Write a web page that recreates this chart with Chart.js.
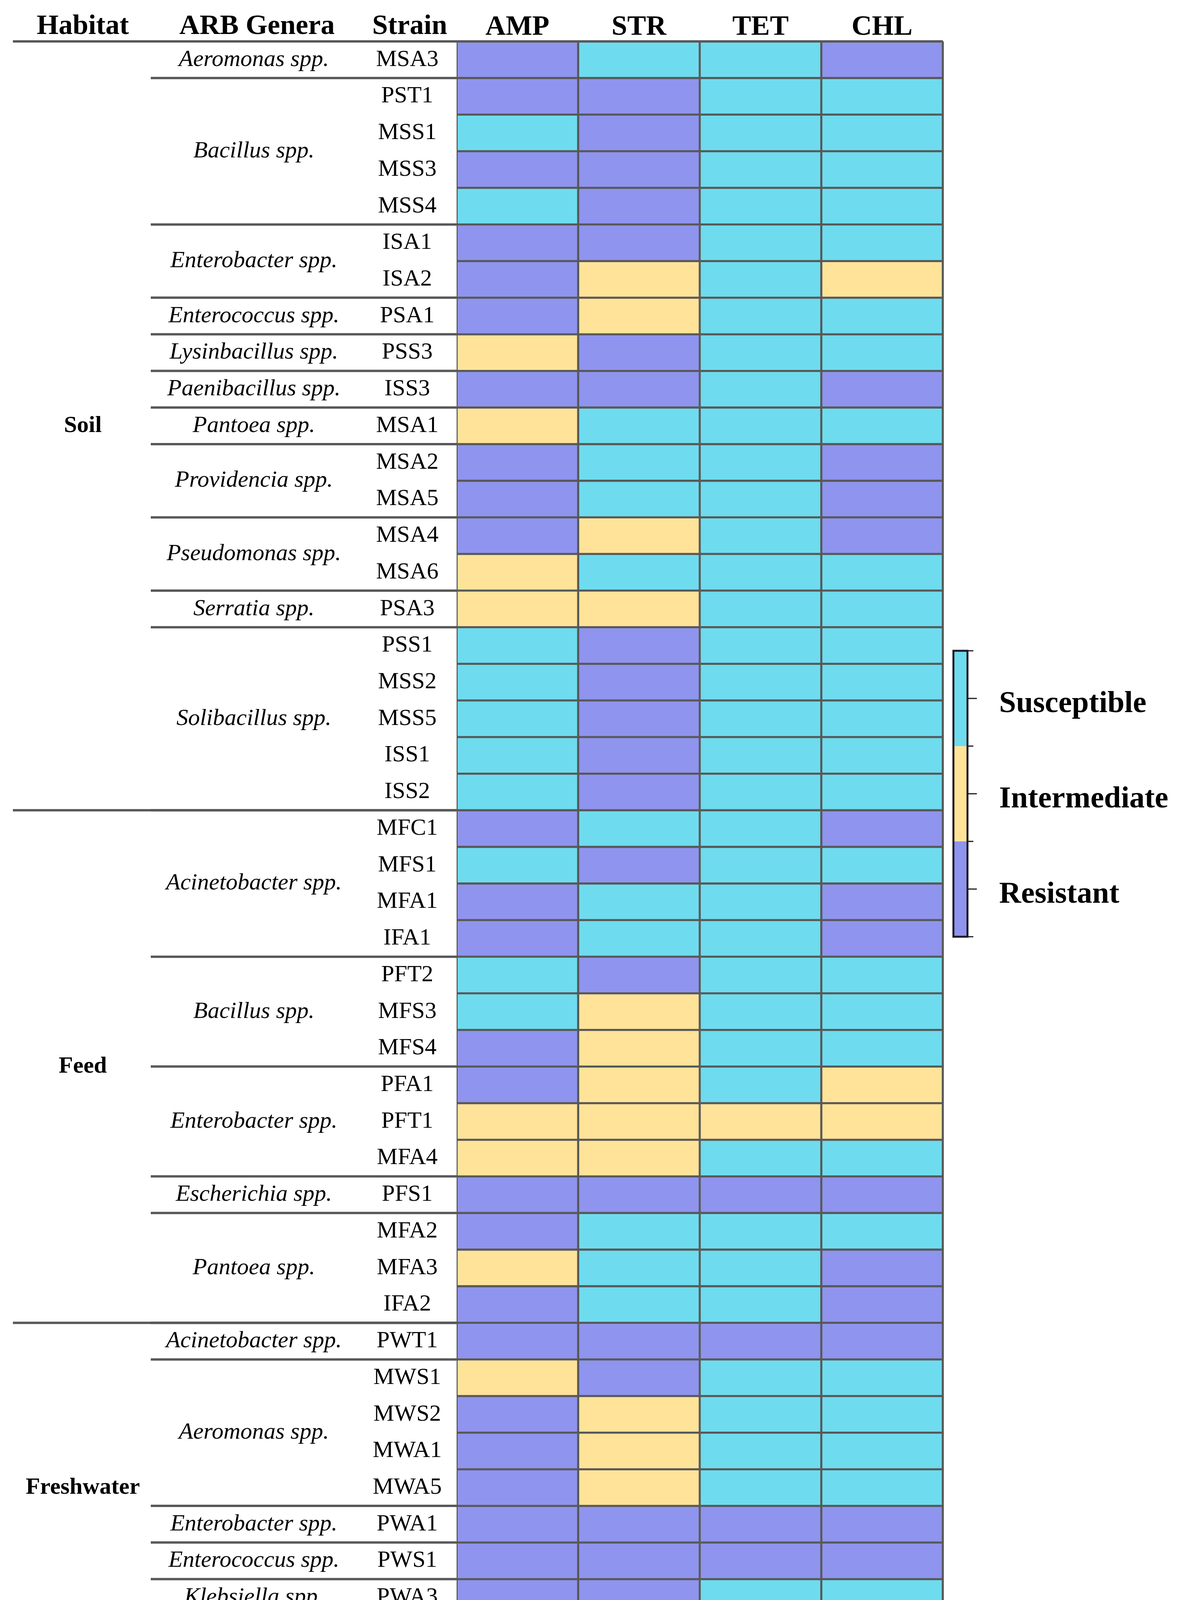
<!DOCTYPE html>
<html>
<head>
<meta charset="utf-8">
<script src="https://cdn.jsdelivr.net/npm/chart.js@4.4.1/dist/chart.umd.min.js"></script>
<style>
  html, body { margin: 0; padding: 0; background: #fff; }
  canvas { display: block; }
</style>
</head>
<body>
<canvas id="amr" width="3016" height="4304" style="width:3016px;height:4304px"></canvas>
<script>
// columns
const antibiotics = ['AMP', 'STR', 'TET', 'CHL'];

// rows, top to bottom
const strains = [
    'MSA3', 'PST1', 'MSS1', 'MSS3', 'MSS4', 'ISA1', 'ISA2', 'PSA1', 'PSS3', 'ISS3', 'MSA1',
    'MSA2', 'MSA5', 'MSA4', 'MSA6', 'PSA3', 'PSS1', 'MSS2', 'MSS5', 'ISS1', 'ISS2',
    'MFC1', 'MFS1', 'MFA1', 'IFA1', 'PFT2', 'MFS3', 'MFS4', 'PFA1', 'PFT1', 'MFA4', 'PFS1',
    'MFA2', 'MFA3', 'IFA2',
    'PWT1', 'MWS1', 'MWS2', 'MWA1', 'MWA5', 'PWA1', 'PWS1', 'PWA3', 'MWA3'
];

const habitats = ['Soil', 'Feed', 'Freshwater'];
const habitatSizes = [21, 14, 9];

const genera = [
    'Aeromonas spp.', 'Bacillus spp.', 'Enterobacter spp.', 'Enterococcus spp.', 'Lysinbacillus spp.',
    'Paenibacillus spp.', 'Pantoea spp.', 'Providencia spp.', 'Pseudomonas spp.', 'Serratia spp.',
    'Solibacillus spp.',
    'Acinetobacter spp.', 'Bacillus spp.', 'Enterobacter spp.', 'Escherichia spp.', 'Pantoea spp.',
    'Acinetobacter spp.', 'Aeromonas spp.', 'Enterobacter spp.', 'Enterococcus spp.', 'Klebsiella spp.',
    'Pseudomonas spp.'
];
const generaSizes = [1, 4, 2, 1, 1, 1, 1, 2, 2, 1, 5, 4, 3, 3, 1, 3, 1, 4, 1, 1, 1, 1];

// R = resistant, I = intermediate, S = susceptible
const ampRes = ['R','R','S','R','S','R','R','R','I','R','I','R','R','R','I','I','S','S','S','S','S',
                'R','S','R','R','S','S','R','R','I','I','R','R','I','R',
                'R','I','R','R','R','R','R','R','R'];
const strRes = ['S','R','R','R','R','R','I','I','R','R','S','S','S','I','S','I','R','R','R','R','R',
                'S','R','S','S','R','I','I','I','I','I','R','S','S','S',
                'R','R','I','I','I','R','R','R','R'];
const tetRes = ['S','S','S','S','S','S','S','S','S','S','S','S','S','S','S','S','S','S','S','S','S',
                'S','S','S','S','S','S','S','S','I','S','R','S','S','S',
                'R','S','S','S','S','R','R','S','S'];
const chlRes = ['R','S','S','S','S','S','I','S','S','R','S','R','R','R','S','S','S','S','S','S','S',
                'R','S','R','R','S','S','S','I','I','S','R','S','R','R',
                'R','S','S','S','S','R','R','S','R'];

const statusCodes = ['S', 'I', 'R'];
const statusLabels = ['Susceptible', 'Intermediate', 'Resistant'];
const statusColors = ['#6EDCEE', '#FFE399', '#8F94EE'];

const lineColor = '#585858';
const serif = '"Liberation Serif", "Times New Roman", serif';

function colorOf(code) {
    return statusColors[statusCodes.indexOf(code)];
}

const results = [ampRes, strRes, tetRes, chlRes];

// labels, separators and colour key
const tableDecor = {
    id: 'tableDecor',
    afterDraw(chart) {
        const ctx = chart.ctx;
        const area = chart.chartArea;
        const y = chart.scales.y;
        const band = y.getPixelForValue(1) - y.getPixelForValue(0);
        const rowTop = i => y.getPixelForValue(0) - band / 2 + i * band;

        ctx.save();
        ctx.fillStyle = '#000';
        ctx.textAlign = 'center';
        ctx.textBaseline = 'alphabetic';
        ctx.font = 'bold 72px ' + serif;
        ctx.fillText('Habitat', 212, 87);
        ctx.fillText('ARB Genera', 658, 87);
        ctx.fillText('Strain', 1049, 87);

        ctx.strokeStyle = lineColor;
        ctx.lineWidth = 6;
        function hline(x0, x1, yy) {
            ctx.beginPath();
            ctx.moveTo(x0, yy);
            ctx.lineTo(x1, yy);
            ctx.stroke();
        }

        // genera
        ctx.textBaseline = 'middle';
        ctx.font = 'italic 60px ' + serif;
        let start = 0;
        genera.forEach((g, k) => {
            const n = generaSizes[k];
            const yc = (rowTop(start) + rowTop(start + n)) / 2;
            ctx.fillText(g, 650, yc);
            if (start > 0) hline(386, area.left, rowTop(start));
            start += n;
        });

        // habitats
        ctx.font = 'bold 60px ' + serif;
        start = 0;
        habitats.forEach((h, k) => {
            const n = habitatSizes[k];
            const yc = (rowTop(start) + rowTop(start + n)) / 2;
            ctx.fillText(h, 212, yc);
            if (start > 0) hline(33, area.left, rowTop(start));
            start += n;
        });

        hline(33, area.right, area.top);
        hline(33, area.right, area.bottom);
        ctx.lineWidth = 5;
        ctx.beginPath();
        ctx.moveTo(area.right, area.top);
        ctx.lineTo(area.right, area.bottom);
        ctx.stroke();

        // colour key
        const kx = 2441, kw = 36, ktop = 1666, kbot = 2398;
        const seg = (kbot - ktop) / statusLabels.length;
        statusLabels.forEach((lab, k) => {
            ctx.fillStyle = statusColors[k];
            ctx.fillRect(kx, ktop + k * seg, kw, seg);
        });
        ctx.strokeStyle = '#1a1a22';
        ctx.lineWidth = 5;
        ctx.strokeRect(kx, ktop, kw, kbot - ktop);
        ctx.lineWidth = 3;
        for (let k = 0; k <= statusLabels.length * 2; k++) {
            const ty = ktop + k * seg / 2;
            hline(kx + kw, kx + kw + (k % 2 ? 24 : 15), ty);
        }
        ctx.fillStyle = '#000';
        ctx.textAlign = 'left';
        ctx.textBaseline = 'alphabetic';
        ctx.font = 'bold 78px ' + serif;
        statusLabels.forEach((lab, k) => {
            ctx.fillText(lab, 2558, ktop + (k + 0.5) * seg + 35);
        });
        ctx.restore();
    }
};

new Chart(document.getElementById('amr'), {
    type: 'bar',
    data: {
        labels: strains,
        datasets: results.map((res, k) => ({
            label: antibiotics[k],
            data: res.map(() => 1),
            backgroundColor: res.map(colorOf),
            borderColor: lineColor,
            borderWidth: 3,
            borderSkipped: false,
            barPercentage: 1,
            categoryPercentage: 1
        }))
    },
    options: {
        indexAxis: 'y',
        responsive: false,
        devicePixelRatio: 1,
        animation: false,
        layout: { padding: { left: 0, right: 602, top: 0, bottom: 36 } },
        plugins: {
            legend: { display: false },
            tooltip: { enabled: false }
        },
        scales: {
            x: {
                type: 'linear',
                position: 'top',
                stacked: true,
                min: 0,
                max: antibiotics.length,
                grid: { display: false, drawTicks: false },
                border: { display: false },
                afterBuildTicks: scale => {
                    scale.ticks = antibiotics.map((a, i) => ({ value: i + 0.5 }));
                },
                afterFit: scale => { scale.height = 106; },
                ticks: {
                    color: '#000',
                    padding: -8,
                    font: { family: serif, size: 72, weight: 'bold' },
                    callback: (v, i) => antibiotics[i]
                }
            },
            y: {
                type: 'category',
                stacked: true,
                grid: { display: false, drawTicks: false },
                border: { display: false },
                afterFit: scale => { scale.width = 1169; },
                ticks: {
                    color: '#000',
                    crossAlign: 'center',
                    padding: 38,
                    autoSkip: false,
                    font: { family: serif, size: 60 }
                }
            }
        }
    },
    plugins: [tableDecor]
});
</script>
</body>
</html>
